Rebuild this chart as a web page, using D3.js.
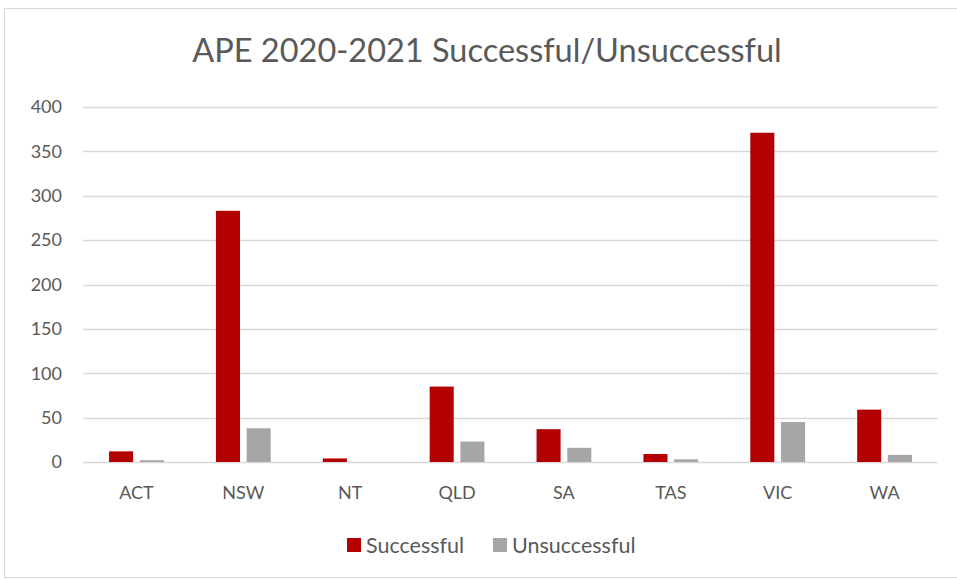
<!DOCTYPE html>
<html><head><meta charset="utf-8">
<script src="https://cdn.jsdelivr.net/npm/d3@7"></script>
<style>body{margin:0;background:#fff;}svg{display:block;font-family:Lato,"Open Sans",sans-serif;}</style>
</head><body>
<svg id="c" width="957" height="580"></svg>
<script>
const categories = ["ACT","NSW","NT","QLD","SA","TAS","VIC","WA"];
const successful = [12, 283, 4, 85, 37, 9, 371, 59];
const unsuccessful = [2, 38, 0, 23, 16, 3, 45, 8];
const yTicks = [0,50,100,150,200,250,300,350,400];
const seriesNames = ["Successful","Unsuccessful"];
const colors = ["#b30000","#a6a6a6"];

const svg = d3.select("#c");
svg.append("rect").attr("x",4.5).attr("y",8.5).attr("width",960).attr("height",569)
  .attr("fill","#fff").attr("stroke","#d9d9d9");

const m = {l:83, r:938, t:107, b:462};
const x = d3.scaleBand().domain(categories).range([m.l,m.r]);
const y = d3.scaleLinear().domain([0,400]).range([m.b,m.t]);

svg.append("text").attr("x",487).attr("y",62).attr("text-anchor","middle")
  .attr("font-size",32.5).attr("fill","#595959").text("APE 2020-2021 Successful/Unsuccessful");

svg.append("g").selectAll("line").data(yTicks).join("line")
  .attr("x1",m.l).attr("x2",m.r).attr("y1",d=>Math.round(y(d))+0.5).attr("y2",d=>Math.round(y(d))+0.5)
  .attr("stroke","#d9d9d9").attr("stroke-width",1.3);

svg.append("g").selectAll("text").data(yTicks).join("text")
  .attr("x",62).attr("y",d=>y(d)).attr("dy","0.35em").attr("text-anchor","end")
  .attr("font-size",18).attr("fill","#595959").text(d=>d);

const bw = x.bandwidth();
const barW = bw*0.225, gap = bw*0.0625;
const off = (bw - (2*barW+gap))/2;
const data = [successful, unsuccessful];
data.forEach((vals,si)=>{
  svg.append("g").selectAll("rect").data(categories).join("rect")
    .attr("x",(d)=>x(d)+off+si*(barW+gap))
    .attr("y",(d,i)=>y(vals[i]))
    .attr("width",barW)
    .attr("height",(d,i)=>y(0)-y(vals[i]))
    .attr("fill",colors[si]);
});

svg.append("g").selectAll("text").data(categories).join("text")
  .attr("x",d=>x(d)+bw/2).attr("y",493).attr("dy","0.35em").attr("text-anchor","middle")
  .attr("font-size",18).attr("fill","#595959").text(d=>d);

const leg = [{x:347,t:seriesNames[0],c:colors[0]},{x:493,t:seriesNames[1],c:colors[1]}];
leg.forEach(l=>{
  svg.append("rect").attr("x",l.x).attr("y",538).attr("width",14).attr("height",14).attr("fill",l.c);
  svg.append("text").attr("x",l.x+19).attr("y",545).attr("dy","0.35em").attr("font-size",21.5)
    .attr("fill","#595959").text(l.t);
});
</script>
</body></html>
